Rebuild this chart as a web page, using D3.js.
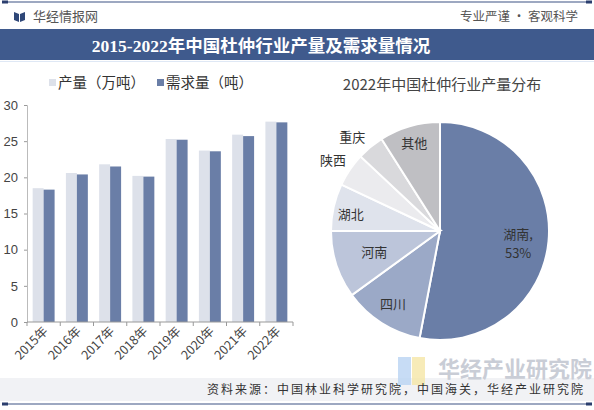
<head>
<meta charset="utf-8">
<script type="text/javascript" src="https://d3js.org/d3.v7.min.js"></script>
<style>
  body { margin: 0; background: #fff; }
  svg { display: block; font-family: "Noto Sans CJK SC", "Noto Sans", sans-serif; }
</style>
</head>
<body>
<div id="vis"></div>

<script type="text/javascript">

// data
var years = ["2015年","2016年","2017年","2018年","2019年","2020年","2021年","2022年"];
var production = [18.5, 20.6, 21.8, 20.2, 25.3, 23.7, 25.9, 27.7];
var demand = [18.3, 20.4, 21.5, 20.1, 25.2, 23.6, 25.7, 27.6];
var yTicks = [0, 5, 10, 15, 20, 25, 30];

var provinces = ["湖南","四川","河南","湖北","陕西","重庆","其他"];
var shares = [53, 12, 10, 7, 5, 4, 9];
var pieColors = ["#6a7ea7","#9ba9c7","#bcc5da","#dfe3ec","#ebebee","#d9d9dc","#bfbfc3"];

var W = 594, H = 410;
var svg = d3.select("#vis").append("svg").attr("width", W).attr("height", H);

// header
svg.append("line").attr("x1", 2).attr("x2", 592).attr("y1", 2).attr("y2", 2)
  .attr("stroke", "#3d5283").attr("stroke-width", 1.2);
svg.append("rect").attr("x", 2).attr("y", 0.5).attr("width", 6).attr("height", 3).attr("fill", "#2b3e6e");
svg.append("rect").attr("x", 586).attr("y", 0.5).attr("width", 6).attr("height", 3).attr("fill", "#2b3e6e");
// little book icon
svg.append("path").attr("d", "M14,12 L19,14 L19,22 L14,20 Z").attr("fill", "#2f4778");
svg.append("path").attr("d", "M20,14 L25,12 L25,20 L20,22 Z").attr("fill", "#2f4778");
svg.append("text").attr("x", 33).attr("y", 21).attr("font-size", 13).attr("fill", "#555").text("华经情报网");
svg.append("text").attr("x", 578).attr("y", 21).attr("text-anchor", "end").attr("font-size", 12.5)
  .attr("fill", "#555").text("专业严谨 • 客观科学");

svg.append("rect").attr("x", 0).attr("y", 29).attr("width", W).attr("height", 31).attr("fill", "#3f5a8d");
svg.append("text").attr("x", 261).attr("y", 52).attr("text-anchor", "middle").attr("font-size", 17.5)
  .attr("font-weight", "bold").attr("fill", "#fff")
  .attr("font-family", "'Liberation Serif', 'Noto Sans CJK SC', serif")
  .text("2015-2022年中国杜仲行业产量及需求量情况");
svg.append("line").attr("x1", 0).attr("x2", W).attr("y1", 61.5).attr("y2", 61.5)
  .attr("stroke", "#dfe8f5").attr("stroke-width", 1);

// footer
svg.append("rect").attr("x", 0).attr("y", 378).attr("width", W).attr("height", 23).attr("fill", "#f1f2f5");
svg.append("line").attr("x1", 2).attr("x2", 592).attr("y1", 404).attr("y2", 404)
  .attr("stroke", "#3d5283").attr("stroke-width", 1.2);
svg.append("rect").attr("x", 2).attr("y", 402.5).attr("width", 6).attr("height", 3).attr("fill", "#2b3e6e");
svg.append("rect").attr("x", 586).attr("y", 402.5).attr("width", 6).attr("height", 3).attr("fill", "#2b3e6e");

// watermark logo
svg.append("rect").attr("x", 398).attr("y", 357).attr("width", 13).attr("height", 28).attr("fill", "#b9d3f2").attr("opacity", 0.8);
svg.append("rect").attr("x", 412).attr("y", 357).attr("width", 13).attr("height", 28).attr("fill", "#f5e6a6").attr("opacity", 0.8);
svg.append("text").attr("x", 438).attr("y", 377).attr("font-size", 22).attr("font-weight", "bold")
  .attr("fill", "#c9cdd6").text("华经产业研究院");

svg.append("text").attr("x", 585).attr("y", 394).attr("text-anchor", "end").attr("font-size", 12)
  .attr("letter-spacing", 2)
  .attr("fill", "#333").text("资料来源：中国林业科学研究院，中国海关，华经产业研究院");

// ---------- bar chart ----------
var x = d3.scaleBand().domain(years).range([27, 293]);
var y = d3.scaleLinear().domain([0, 30]).range([322, 105]);
var bw = x.bandwidth() * 0.33;
var off = (x.bandwidth() - 2 * bw) / 2;

var g = svg.append("g");

g.selectAll("rect.prod").data(production).enter().append("rect")
  .attr("class", "prod")
  .attr("x", function(d, i) { return x(years[i]) + off; })
  .attr("y", function(d) { return y(d); })
  .attr("width", bw)
  .attr("height", function(d) { return y(0) - y(d); })
  .attr("fill", "#dde1ea");

g.selectAll("rect.dem").data(demand).enter().append("rect")
  .attr("class", "dem")
  .attr("x", function(d, i) { return x(years[i]) + off + bw; })
  .attr("y", function(d) { return y(d); })
  .attr("width", bw)
  .attr("height", function(d) { return y(0) - y(d); })
  .attr("fill", "#6a7ea7");

// y axis
var yAxis = g.append("g").attr("transform", "translate(27,0)")
  .call(d3.axisLeft(y).tickValues(yTicks).tickSize(3).tickPadding(6));
yAxis.select(".domain").attr("stroke", "#bbb");
yAxis.selectAll(".tick line").attr("stroke", "#999");
yAxis.selectAll("text").attr("font-size", 13).attr("fill", "#444")
  .attr("font-family", "'Liberation Sans', Arial, sans-serif");

// x axis, ticks on band edges
var xAxis = g.append("g").attr("transform", "translate(0,322)");
xAxis.append("line").attr("x1", 27).attr("x2", 293).attr("stroke", "#999");
xAxis.selectAll("line.tk").data(years.concat(["end"])).enter().append("line")
  .attr("class", "tk")
  .attr("x1", function(d, i) { return i < years.length ? x(d) : x.range()[1]; })
  .attr("x2", function(d, i) { return i < years.length ? x(d) : x.range()[1]; })
  .attr("y1", 0).attr("y2", 4).attr("stroke", "#999");
xAxis.selectAll("text").data(years).enter().append("text")
  .attr("transform", function(d) {
    return "translate(" + (x(d) + x.bandwidth() / 2 + 5) + ",10) rotate(-45)";
  })
  .attr("text-anchor", "end")
  .attr("font-size", 12.5)
  .attr("fill", "#444")
  .text(function(d) { return d; });

// legend
var legend = [["产量（万吨）", "#dde1ea", 49], ["需求量（吨）", "#6a7ea7", 157]];
legend.forEach(function(l) {
  svg.append("rect").attr("x", l[2]).attr("y", 79).attr("width", 7).attr("height", 7).attr("fill", l[1]);
  svg.append("text").attr("x", l[2] + 9).attr("y", 88).attr("font-size", 14.5).attr("fill", "#333").text(l[0]);
});

// ---------- pie ----------
svg.append("text").attr("x", 442).attr("y", 90).attr("text-anchor", "middle").attr("font-size", 15)
  .attr("fill", "#444").text("2022年中国杜仲行业产量分布");

var cx = 440, cy = 231, r = 109;
var pie = d3.pie().sort(null)(shares);
var arc = d3.arc().innerRadius(0).outerRadius(r);

var pg = svg.append("g").attr("transform", "translate(" + cx + "," + cy + ")");
pg.selectAll("path").data(pie).enter().append("path")
  .attr("d", arc)
  .attr("fill", function(d, i) { return pieColors[i]; })
  .attr("stroke", "#fff")
  .attr("stroke-width", 2);

// label placement: radius fraction per slice (>1 = outside), plus a nudge
var labelR = [0.72, 0.72, 0.76, 0.82, 1.12, 1.12, 0.78];
var labelShift = [[0, 7], [-5, 7], [13, -5], [-2, 2], [-6, -2], [-10, 0], [-2, -6]];
pie.forEach(function(d, i) {
  var a = (d.startAngle + d.endAngle) / 2;
  var rr = r * labelR[i];
  var px = Math.sin(a) * rr + labelShift[i][0], py = -Math.cos(a) * rr + labelShift[i][1];
  if (i === 0) {
    pg.append("text").attr("x", px).attr("y", py - 6).attr("text-anchor", "middle")
      .attr("font-size", 13).attr("fill", "#333").text(provinces[i] + ",");
    pg.append("text").attr("x", px).attr("y", py + 13).attr("text-anchor", "middle")
      .attr("font-size", 13).attr("fill", "#333").text(shares[i] + "%");
  } else {
    pg.append("text").attr("x", px).attr("y", py + 5).attr("text-anchor", "middle")
      .attr("font-size", 13).attr("fill", "#333").text(provinces[i]);
  }
});

</script>
</body>
